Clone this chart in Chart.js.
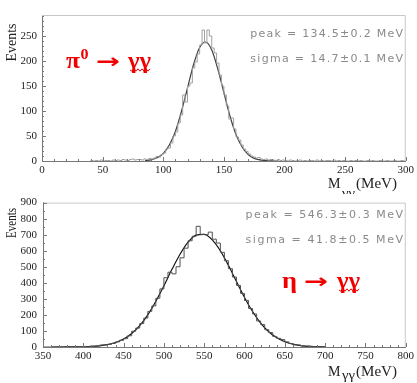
<!DOCTYPE html>
<html><head><meta charset="utf-8">
<script src="https://cdn.jsdelivr.net/npm/chart.js@4/dist/chart.umd.min.js"></script>
<style>
html,body{margin:0;padding:0;background:#fff;}
#wrap{position:relative;width:417px;height:383px;overflow:hidden;background:#fff;}
canvas{position:absolute;left:0;}
</style>
</head><body>
<div id="wrap">
<canvas id="c2" width="417" height="193" style="top:190px"></canvas>
<canvas id="c1" width="417" height="194" style="top:0px"></canvas>
</div>
<script>
// ---------- pi0 -> gamma gamma (top panel) ----------
const piBinStart = 40, piBinWidth = 2;
const piCounts = [
 1,0,1,0,2,0,1,1,0,2,1,2,1,3,2,1,3,4,2,3,
 3,2,4,3,5,4,6,9,8,13,16,24,26,36,50,58,76,92,132,118,
 150,156,186,198,214,232,262,236,262,250,226,216,196,172,150,132,110,84,86,64,
 48,42,32,24,19,14,10,8,6,7,4,3,4,2,3,2,1,3,1,2,
 1,0,2,1,0,1,2,0,1,0,1,1,0,2,0,1,0,1,1,0,2,0,1,0,1,0,0,1,0,1,0,1,0,0,1,0,1,0,0,1,0,0,1,0,0,1,0,0,1,0
];
const piFitMass = [85,90,95,100,105,110,115,120,125,130,135,140,145,150,155,160,165,170,175,180,185,190,195];
const piFitValues = [0.8,2.4,6.4,15,32,59,99,146,193,227,238,222,184,137,90,53,28,13,5.3,2,0.7,0.2,0.1];
const piXTicks = [0,50,100,150,200,250,300];
const piYTicks = [0,50,100,150,200,250];
const piStats = ["peak = 134.5\u00B10.2 MeV", "sigma = 14.7\u00B10.1 MeV"];

// ---------- eta -> gamma gamma (bottom panel) ----------
const etaBinStart = 350, etaBinWidth = 5;
const etaCounts = [
 0,0,0,1,0,0,1,0,1,1,
 2,2,4,6,12,14,16,22,32,42,
 52,70,98,118,146,180,222,256,304,362,
 432,466,456,500,556,616,662,690,752,702,
 700,716,672,648,590,538,488,436,384,334,
 290,240,206,162,140,108,90,66,54,46,
 32,22,14,12,6,5,4,2,1,1
];
const etaFitMass = [360,370,380,390,400,410,420,430,440,450,460,470,480,490,500,510,520,530,540,550,560,570,580,590,600,610,620,630,640,650,660,670,680,690,700];
const etaFitValues = [0,0.1,0.3,0.7,1.5,3.5,7.3,14.7,27.8,49.6,83.7,133,200,285,382,484,578,653,697,702,668,600,509,408,309,221,149,95,57,32.5,17.4,8.8,4.2,1.9,0.8];
const etaXTicks = [350,400,450,500,550,600,650,700,750,800];
const etaYTicks = [0,100,200,300,400,500,600,700,800,900];
const etaStats = ["peak = 546.3\u00B10.3 MeV", "sigma = 41.8\u00B10.5 MeV"];

function histPoints(start, width, counts){
  const pts = counts.map((c,i)=>({x:start+i*width, y:c}));
  pts.push({x:start+counts.length*width, y:0});
  return pts;
}
function fitPoints(xs, ys){ return xs.map((x,i)=>({x:x, y:ys[i]})); }

function drawScaled(ctx, s, x, y, font, color, align, targetW){
  ctx.save();
  ctx.font = font; ctx.fillStyle = color; ctx.textAlign = align; ctx.textBaseline = 'alphabetic';
  ctx.translate(x, y);
  if (targetW){ const m = ctx.measureText(s).width; ctx.scale(targetW/m, 1); }
  ctx.fillText(s, 0, 0);
  ctx.restore();
}
function drawSpaced(ctx, s, xRight, y, font, color, targetW){
  ctx.save();
  ctx.font = font; ctx.fillStyle = color; ctx.textBaseline = 'alphabetic'; ctx.textAlign = 'left';
  let m = ctx.measureText(s).width;
  const sp = (targetW - m) / s.length;
  if ('letterSpacing' in ctx){ ctx.letterSpacing = sp + 'px'; m = ctx.measureText(s).width; ctx.fillText(s, xRight - m + sp, y); }
  else { ctx.translate(xRight - targetW, y); ctx.scale(targetW/m,1); ctx.fillText(s,0,0); }
  ctx.restore();
}
function wave(ctx, x0, x1, y, color){
  ctx.save(); ctx.strokeStyle = color; ctx.lineWidth = 1; ctx.beginPath();
  let up = true;
  for (let x = x0; x <= x1; x += 2){ if (x===x0) ctx.moveTo(x, y); else ctx.lineTo(x, y + (up ? -1.2 : 1.2)); up = !up; }
  ctx.stroke(); ctx.restore();
}

const deco = {
  id: 'deco',
  afterDraw(chart, args, o){
    const ctx = chart.ctx, a = chart.chartArea, xs = chart.scales.x, ys = chart.scales.y;
    ctx.save();
    // light frame top/right
    ctx.strokeStyle = '#c8c8c8'; ctx.lineWidth = 1;
    ctx.beginPath();
    ctx.moveTo(a.left, a.top + 0.5); ctx.lineTo(a.right - 0.5, a.top + 0.5); ctx.lineTo(a.right - 0.5, a.bottom);
    ctx.stroke();
    // inward tick marks
    ctx.strokeStyle = '#777'; ctx.beginPath();
    for (let v = xs.min; v <= xs.max + 1e-6; v += o.xMinor){
      const px = Math.round(xs.getPixelForValue(v)) + 0.5;
      const major = Math.abs(((v - xs.min) / o.xMajor) - Math.round((v - xs.min) / o.xMajor)) < 1e-6;
      ctx.moveTo(px, a.bottom); ctx.lineTo(px, a.bottom - (major ? 4 : 2));
    }
    for (let v = ys.min; v <= o.yTop + 1e-6; v += o.yMinor){
      const py = Math.round(ys.getPixelForValue(v)) + 0.5;
      const major = Math.abs((v / o.yMajor) - Math.round(v / o.yMajor)) < 1e-6;
      ctx.moveTo(a.left, py); ctx.lineTo(a.left + (major ? 4 : 2), py);
    }
    ctx.stroke();
    // y title "Events"
    ctx.save();
    ctx.translate(o.evX, o.evY); ctx.rotate(-Math.PI/2);
    ctx.font = '14px "Liberation Serif"'; ctx.fillStyle = '#222'; ctx.textAlign = 'center'; ctx.textBaseline = 'middle';
    const em = ctx.measureText('Events').width; ctx.scale(o.evLen/em, 1);
    ctx.fillText('Events', 0, 0);
    ctx.restore();
    // x title M_γγ(MeV)
    drawScaled(ctx, 'M', 328, o.mY, '14px "Liberation Serif"', '#222', 'left', 12.5);
    drawScaled(ctx, '\u03B3\u03B3', 342, o.subY, '12px "Liberation Serif"', '#222', 'left', 13);
    drawScaled(ctx, '(MeV)', 356, o.mY, '14px "Liberation Serif"', '#222', 'left', 41);
    // stats
    drawSpaced(ctx, o.stats[0], 403, o.s1Y, '11px "DejaVu Sans"', '#8a8a8a', o.sW);
    drawSpaced(ctx, o.stats[1], 403, o.s2Y, '11px "DejaVu Sans"', '#8a8a8a', o.sW);
    // red process label
    const red = '#f00000';
    const L = o.lab;
    drawScaled(ctx, L.first, L.x0, L.base, 'bold 24px "Liberation Serif"', red, 'left', L.w0);
    if (L.sup) drawScaled(ctx, L.sup, L.x0 + L.w0 + 0.5, L.base - 9, 'bold 14px "Liberation Serif"', red, 'left', 8);
    drawScaled(ctx, '\u2192', L.ax, L.base, 'bold 20px "DejaVu Sans"', red, 'left', 24);
    drawScaled(ctx, '\u03B3\u03B3', L.gx, L.base, 'bold 24px "Liberation Serif"', red, 'left', 23);
    wave(ctx, L.gx + 2, L.gx + 22, L.base + 2, red);
    ctx.restore();
  }
};

function panel(id, cfg){
  const tickFont = {family: '"Liberation Serif"', size: 11};
  return new Chart(document.getElementById(id), {
    type: 'line',
    data: { datasets: [
      { data: histPoints(cfg.binStart, cfg.binWidth, cfg.counts), stepped: true, borderColor: cfg.histColor, borderWidth: 1, pointRadius: 0, fill: false },
      { data: fitPoints(cfg.fitX, cfg.fitY), borderColor: cfg.fitColor, borderWidth: 1.2, pointRadius: 0, cubicInterpolationMode: 'monotone', fill: false }
    ]},
    options: {
      responsive: false, animation: false, devicePixelRatio: 1,
      layout: { padding: { top: cfg.padTop, right: 11, left: 0, bottom: 0 } },
      plugins: { legend: { display: false }, tooltip: { enabled: false }, deco: cfg.deco },
      scales: {
        x: { type: 'linear', min: cfg.xMin, max: cfg.xMax,
             afterBuildTicks: s => { s.ticks = cfg.xTicks.map(v => ({value: v})); },
             ticks: { font: tickFont, color: '#222', padding: 3, maxRotation: 0, autoSkip: false },
             grid: { display: false, drawTicks: false },
             border: { display: true, color: '#777', width: 1 },
             afterFit: s => { s.height = cfg.xAxisH; } },
        y: { type: 'linear', min: 0, max: cfg.yMax,
             afterBuildTicks: s => { s.ticks = cfg.yTicks.map(v => ({value: v})); },
             ticks: { font: tickFont, color: '#222', padding: cfg.yPad, autoSkip: false },
             grid: { display: false, drawTicks: false },
             border: { display: true, color: '#777', width: 1 },
             afterFit: s => { s.width = cfg.yAxisW; } }
      }
    },
    plugins: [deco]
  });
}

panel('c1', {
  binStart: piBinStart, binWidth: piBinWidth, counts: piCounts, fitX: piFitMass, fitY: piFitValues,
  histColor: '#a0a0a0', fitColor: '#404040', xMin: 0, xMax: 300, yMax: 292,
  xTicks: piXTicks, yTicks: piYTicks, padTop: 15, xAxisH: 33, yAxisW: 42, yPad: 5,
  deco: { xMinor: 10, xMajor: 50, yMinor: 10, yMajor: 50, yTop: 290,
          evX: 12, evY: 42.5, evLen: 38, mY: 187.5, subY: 197,
          stats: piStats, s1Y: 37, s2Y: 62, sW: 154,
          lab: { first: '\u03C0', sup: '0', x0: 66, w0: 14, base: 68, ax: 96, gx: 128 } }
});
panel('c2', {
  binStart: etaBinStart, binWidth: etaBinWidth, counts: etaCounts, fitX: etaFitMass, fitY: etaFitValues,
  histColor: '#505050', fitColor: '#111111', xMin: 350, xMax: 800, yMax: 900,
  xTicks: etaXTicks, yTicks: etaYTicks, padTop: 12, xAxisH: 36, yAxisW: 43, yPad: 6,
  deco: { xMinor: 10, xMajor: 50, yMinor: 50, yMajor: 100, yTop: 900,
          evX: 12, evY: 33, evLen: 30, mY: 186, subY: 189,
          stats: etaStats, s1Y: 28, s2Y: 53, sW: 159,
          lab: { first: '\u03B7', sup: '', x0: 282, w0: 15, base: 98, ax: 304, gx: 337 } }
});
</script>
</body></html>
